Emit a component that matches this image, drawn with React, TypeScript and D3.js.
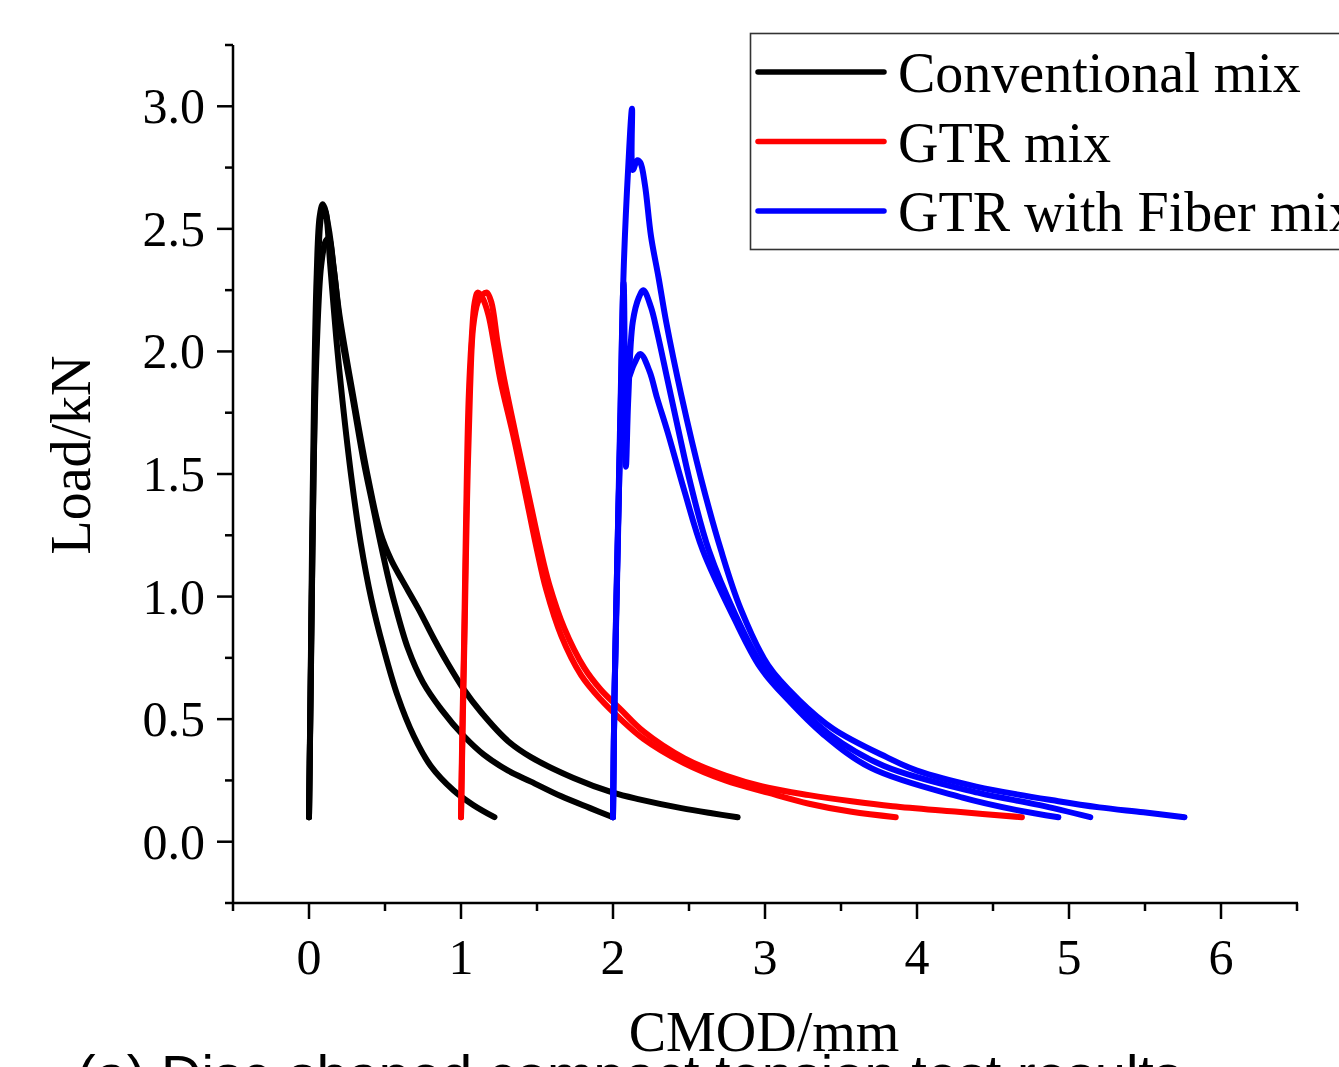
import React from "react";
import * as d3 from "d3";

// ---- Data ----
// Conventional mix specimens: [CMOD mm, Load kN]
const conv1: [number, number][] = [
  [0, 0.1], [0.01, 0.6], [0.02, 1.2], [0.033, 1.8], [0.05, 2.3], [0.07, 2.55], [0.09, 2.6], [0.11, 2.57],
  [0.14, 2.35], [0.18, 2.05], [0.22, 1.8], [0.28, 1.48], [0.34, 1.22], [0.41, 0.99], [0.49, 0.79],
  [0.58, 0.6], [0.69, 0.43], [0.8, 0.31], [0.95, 0.21], [1.08, 0.15], [1.22, 0.1],
];
const conv2: [number, number][] = [
  [0, 0.1], [0.01, 0.6], [0.025, 1.3], [0.04, 1.9], [0.06, 2.35], [0.08, 2.55], [0.1, 2.58], [0.13, 2.5],
  [0.17, 2.3], [0.21, 2.08], [0.29, 1.8], [0.36, 1.55], [0.42, 1.37], [0.47, 1.22], [0.52, 1.08],
  [0.56, 0.98], [0.65, 0.79], [0.75, 0.65], [0.87, 0.54], [1.02, 0.43], [1.15, 0.355], [1.31, 0.29],
  [1.46, 0.245], [1.66, 0.185], [1.85, 0.137], [2.0, 0.1],
];
const conv3: [number, number][] = [
  [0, 0.1], [0.015, 0.8], [0.03, 1.5], [0.05, 2.0], [0.08, 2.35], [0.11, 2.45], [0.13, 2.46], [0.16, 2.35],
  [0.2, 2.15], [0.29, 1.82], [0.39, 1.48], [0.47, 1.26], [0.54, 1.15], [0.61, 1.07], [0.72, 0.95],
  [0.82, 0.83], [0.91, 0.73], [1.02, 0.62], [1.13, 0.53], [1.31, 0.41], [1.46, 0.345], [1.74, 0.26],
  [2.0, 0.2], [2.18, 0.172], [2.45, 0.137], [2.65, 0.116], [2.82, 0.1],
];
// GTR mix specimens
const gtr1: [number, number][] = [
  [1.0, 0.1], [1.01, 0.5], [1.02, 0.8], [1.033, 1.3], [1.05, 1.8], [1.07, 2.05], [1.09, 2.2], [1.11, 2.24],
  [1.14, 2.22], [1.18, 2.15], [1.22, 2.02], [1.26, 1.88], [1.35, 1.64], [1.44, 1.37], [1.5, 1.19],
  [1.56, 1.03], [1.66, 0.84], [1.79, 0.68], [1.92, 0.58], [2.05, 0.5], [2.2, 0.42], [2.47, 0.32],
  [2.74, 0.25], [3.02, 0.2], [3.29, 0.155], [3.57, 0.122], [3.86, 0.1],
];
const gtr2: [number, number][] = [
  [1.0, 0.1], [1.012, 0.5], [1.025, 0.9], [1.04, 1.4], [1.06, 1.85], [1.08, 2.1], [1.11, 2.2], [1.14, 2.23],
  [1.17, 2.24], [1.2, 2.2], [1.24, 2.04], [1.28, 1.9], [1.36, 1.66], [1.45, 1.4], [1.52, 1.2],
  [1.58, 1.05], [1.68, 0.87], [1.81, 0.71], [1.92, 0.62], [2.05, 0.54], [2.2, 0.45], [2.47, 0.34],
  [2.74, 0.27], [3.02, 0.22], [3.29, 0.19], [3.57, 0.165], [3.84, 0.145], [4.25, 0.123], [4.69, 0.1],
];
// GTR with Fiber mix specimens
const fib1: [number, number][] = [
  [2.0, 0.1], [2.01, 0.6], [2.03, 1.16], [2.05, 1.75], [2.07, 2.33], [2.1, 2.75], [2.125, 2.99],
  [2.13, 2.74], [2.16, 2.78], [2.18, 2.77], [2.21, 2.68], [2.25, 2.47], [2.3, 2.3], [2.35, 2.12],
  [2.45, 1.82], [2.58, 1.48], [2.71, 1.19], [2.84, 0.95], [3.02, 0.72], [3.22, 0.58], [3.45, 0.46],
  [3.8, 0.345], [4.0, 0.29], [4.39, 0.225], [4.93, 0.165], [5.2, 0.14], [5.49, 0.12], [5.76, 0.1],
];
const fib2: [number, number][] = [
  [2.0, 0.1], [2.01, 0.6], [2.03, 1.2], [2.05, 1.8], [2.07, 2.28], [2.085, 1.53], [2.1, 1.8],
  [2.13, 2.12], [2.17, 2.22], [2.2, 2.25], [2.25, 2.18], [2.29, 2.08], [2.36, 1.88], [2.43, 1.68],
  [2.51, 1.46], [2.63, 1.19], [2.81, 0.92], [2.99, 0.71], [3.18, 0.58], [3.42, 0.44], [3.78, 0.31],
  [4.4, 0.2], [4.8, 0.15], [5.14, 0.1],
];
const fib3: [number, number][] = [
  [2.0, 0.1], [2.01, 0.6], [2.03, 1.2], [2.05, 1.7], [2.07, 2.0], [2.09, 1.88], [2.14, 1.95],
  [2.18, 1.99], [2.24, 1.92], [2.29, 1.81], [2.36, 1.67], [2.47, 1.43], [2.59, 1.19], [2.79, 0.92],
  [2.97, 0.71], [3.15, 0.58], [3.38, 0.44], [3.7, 0.3], [4.3, 0.18], [4.65, 0.13], [4.93, 0.1],
];

const seriesNames = ["Conventional mix", "GTR mix", "GTR with Fiber mix"];
const seriesColors = ["#000000", "#ff0000", "#0000ff"];
const seriesCurves = [[conv1, conv2, conv3], [gtr1, gtr2], [fib1, fib2, fib3]];

const xMajor = [0, 1, 2, 3, 4, 5, 6];
const xMinor = [-0.5, 0.5, 1.5, 2.5, 3.5, 4.5, 5.5, 6.5];
const yMajor = [0, 0.5, 1.0, 1.5, 2.0, 2.5, 3.0];
const yMinor = [-0.25, 0.25, 0.75, 1.25, 1.75, 2.25, 2.75, 3.25];

const xTitle = "CMOD/mm";
const yTitle = "Load/kN";
const caption = "(a) Disc-shaped compact tension test results";

export default function App() {
  const W = 1339;
  const H = 1067;
  const left = 233, right = 1297, top = 45, bottom = 903;
  const x = d3.scaleLinear().domain([-0.5, 6.5]).range([left, right]);
  const y = d3.scaleLinear().domain([-0.25, 3.25]).range([bottom, top]);
  const line = d3
    .line<[number, number]>()
    .x((d) => x(d[0]))
    .y((d) => y(d[1]))
    .curve(d3.curveCatmullRom.alpha(0.5));

  const serif = "'Liberation Serif', 'Times New Roman', serif";
  const axisW = 2.5;

  return (
    <svg
      width={W}
      height={H}
      style={{ position: "absolute", left: 0, top: 0, background: "#fff" }}
      xmlns="http://www.w3.org/2000/svg"
    >
      <rect x={0} y={0} width={W} height={H} fill="#fff" />
      {/* curves */}
      {seriesCurves.map((curves, si) =>
        curves.map((c, ci) => (
          <path
            key={`${si}-${ci}`}
            d={line(c) || ""}
            fill="none"
            stroke={seriesColors[si]}
            strokeWidth={6}
            strokeLinejoin="round"
            strokeLinecap="round"
          />
        ))
      )}

      {/* axes */}
      <line x1={left} x2={left} y1={top} y2={bottom} stroke="#000" strokeWidth={axisW} />
      <line x1={left - 1} x2={right + 1} y1={bottom} y2={bottom} stroke="#000" strokeWidth={axisW} />
      {yMajor.map((v) => (
        <g key={`ym${v}`}>
          <line x1={left - 16} x2={left} y1={y(v)} y2={y(v)} stroke="#000" strokeWidth={axisW} />
          <text
            x={205}
            y={y(v)}
            dy="0.34em"
            textAnchor="end"
            fontFamily={serif}
            fontSize={50}
            fill="#000"
          >
            {v.toFixed(1)}
          </text>
        </g>
      ))}
      {yMinor.map((v) => (
        <line key={`yn${v}`} x1={left - 8} x2={left} y1={y(v)} y2={y(v)} stroke="#000" strokeWidth={axisW} />
      ))}
      {xMajor.map((v) => (
        <g key={`xm${v}`}>
          <line x1={x(v)} x2={x(v)} y1={bottom} y2={bottom + 16} stroke="#000" strokeWidth={axisW} />
          <text x={x(v)} y={974} textAnchor="middle" fontFamily={serif} fontSize={50} fill="#000">
            {v}
          </text>
        </g>
      ))}
      {xMinor.map((v) => (
        <line key={`xn${v}`} x1={x(v)} x2={x(v)} y1={bottom} y2={bottom + 8} stroke="#000" strokeWidth={axisW} />
      ))}

      {/* axis titles */}
      <text
        transform={`translate(90,455) rotate(-90)`}
        textAnchor="middle"
        fontFamily={serif}
        fontSize={56}
        fill="#000"
      >
        {yTitle}
      </text>
      <text x={764} y={1051} textAnchor="middle" fontFamily={serif} fontSize={56} fill="#000">
        {xTitle}
      </text>

      {/* legend */}
      <rect x={750.5} y={33.5} width={640} height={216} fill="#fff" stroke="#333" strokeWidth={1.6} />
      {seriesNames.map((name, i) => {
        const ly = 72 + i * 69.5;
        return (
          <g key={name}>
            <line x1={758} x2={884} y1={ly} y2={ly} stroke={seriesColors[i]} strokeWidth={5.5} strokeLinecap="round" />
            <text x={898} y={ly + 20} fontFamily={serif} fontSize={56} fill="#000">
              {name}
            </text>
          </g>
        );
      })}

      {/* caption (cut off at the bottom edge) */}
      <text x={77} y={1094} fontFamily="'Liberation Sans', Arial, sans-serif" fontSize={56} fill="#000">
        {caption}
      </text>
    </svg>
  );
}
